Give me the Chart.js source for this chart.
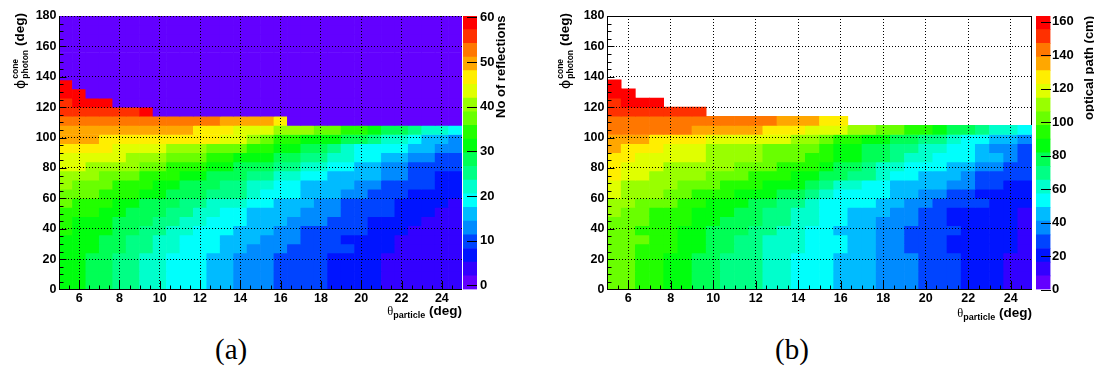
<!DOCTYPE html>
<html><head><meta charset="utf-8">
<script src="https://cdn.jsdelivr.net/npm/chart.js@4.4.1/dist/chart.umd.min.js"></script>
<style>
html,body{margin:0;padding:0;background:#fff;}
#root{position:relative;width:1094px;height:368px;overflow:hidden;font-family:"Liberation Sans",Arial,sans-serif;color:#000;}
canvas{position:absolute;top:0;}
.xt{position:absolute;white-space:nowrap;font:bold 13.5px "Liberation Sans",Arial,sans-serif;line-height:15px;}
.xt .g{font:12.5px "Liberation Serif","DejaVu Serif",serif;}
.xt sub{font-size:9px;vertical-align:-3px;line-height:0;}
.yt{position:absolute;white-space:nowrap;transform-origin:0 0;transform:rotate(-90deg);display:flex;align-items:center;height:21px;font:bold 13.5px "Liberation Sans",Arial,sans-serif;}
.yt .g{font:14px "DejaVu Sans",sans-serif;}
.yt .ss{display:inline-flex;flex-direction:column;font-size:8.5px;line-height:10px;margin-left:1px;margin-right:4px;}
.zt{position:absolute;white-space:nowrap;transform-origin:0 0;transform:rotate(-90deg);font:bold 13px "Liberation Sans",Arial,sans-serif;line-height:15px;}
.cap{position:absolute;font:29px "Liberation Serif","Times New Roman",serif;line-height:32px;}
</style></head><body><div id="root">
<canvas id="heatA" width="470" height="330" style="left:0;width:470px;height:330px"></canvas>
<canvas id="barA" width="60" height="330" style="left:440px;width:60px;height:330px"></canvas>
<canvas id="heatB" width="500" height="330" style="left:540px;width:500px;height:330px"></canvas>
<canvas id="barB" width="84" height="330" style="left:1010px;width:84px;height:330px"></canvas>

<div class="xt" style="right:632px;top:303px"><span class="g">θ</span><sub>particle</sub> (deg)</div>
<div class="xt" style="right:62px;top:305px"><span class="g">θ</span><sub>particle</sub> (deg)</div>
<div class="yt" style="left:9px;top:89px"><span class="g">ϕ</span><span class="ss"><span>cone</span><span>photon</span></span>(deg)</div>
<div class="yt" style="left:554px;top:89px"><span class="g">ϕ</span><span class="ss"><span>cone</span><span>photon</span></span>(deg)</div>
<div class="zt" style="left:493px;top:118px">No of reflections</div>
<div class="zt" style="left:1081px;top:120px">optical path (cm)</div>
<div class="cap" style="left:215px;top:333px">(a)</div>
<div class="cap" style="left:775px;top:333px">(b)</div>
</div>
<script>
// ---- binning (axis structure) ----
const thetaRange = [5, 25];      // θ_particle (deg), 30 bins
const phiRange = [0, 180];       // φ^cone_photon (deg), 30 bins
const nThetaBins = 30, nPhiBins = 30;
const xTickLabels = [6, 8, 10, 12, 14, 16, 18, 20, 22, 24];
const yTickLabels = [0, 20, 40, 60, 80, 100, 120, 140, 160, 180];
const reflTickLabels = [0, 10, 20, 30, 40, 50, 60];
const pathTickLabels = [0, 20, 40, 60, 80, 100, 120, 140, 160];
const reflZRange = [-0.9, 60.3];
const pathZRange = [0, 163.4];
const nContours = 20;

// ---- (a) number of reflections, rows = φ bins from 0 deg upward, columns = θ bins ----
const reflections = [
[31,31,28,28,25,25,22,22,19,19,19,16,16,13,13,13,10,10,10,10,7,7,7,7,4,4,4,4,4,4],
[31,31,28,28,25,25,22,22,19,19,19,16,16,13,13,13,10,10,10,10,7,7,7,7,4,4,4,4,4,4],
[31,31,28,28,25,25,22,22,19,19,19,16,16,13,13,13,10,10,10,10,7,7,7,7,4,4,4,4,4,4],
[31,31,28,28,25,25,22,22,19,19,19,16,16,13,13,13,10,10,10,10,7,7,7,7,4,4,4,4,4,4],
[31,31,31,28,28,25,25,22,22,19,19,19,16,16,13,13,13,10,10,10,10,10,7,7,7,4,4,4,4,4],
[31,31,31,28,28,25,25,22,22,19,19,19,16,16,16,13,13,13,10,10,10,7,7,7,7,4,4,4,4,4],
[34,31,31,31,28,28,25,25,22,22,19,19,19,16,16,16,13,13,10,10,10,10,10,7,7,7,4,4,4,4],
[34,31,31,31,28,28,28,25,25,22,22,19,19,19,16,16,16,13,13,13,10,10,10,7,7,7,7,4,4,4],
[34,34,34,31,31,28,28,28,25,25,22,22,19,19,16,16,16,16,13,13,13,10,10,10,10,7,7,7,4,4],
[37,34,34,34,31,31,28,28,28,25,25,22,22,22,19,19,16,16,16,13,13,10,10,10,10,7,7,7,7,4],
[37,37,37,34,34,34,31,31,28,28,28,25,25,25,22,19,19,19,16,16,16,13,13,10,10,10,7,7,7,7],
[40,37,37,37,34,34,34,31,31,28,28,28,25,25,22,22,19,19,16,16,16,16,13,13,10,10,10,10,7,7],
[40,40,40,37,37,37,34,34,34,31,31,28,28,28,25,25,22,22,19,19,16,16,16,16,13,13,10,10,7,7],
[43,43,40,40,40,40,37,37,34,34,34,31,31,28,28,28,25,25,22,22,19,19,16,16,13,13,10,10,10,10],
[43,43,43,43,43,40,40,40,37,37,37,34,34,31,31,31,28,28,25,25,22,22,19,19,16,16,13,13,10,10],
[46,46,46,46,43,43,43,43,40,40,40,37,37,37,34,34,31,31,28,28,25,22,19,19,19,19,16,16,13,13],
[49,49,49,46,46,46,46,46,46,46,46,46,43,43,40,37,34,34,31,31,31,28,28,25,22,22,19,16,16,13],
[49,49,49,49,49,49,49,49,49,49,46,46,46,43,43,43,40,40,40,37,37,34,34,31,28,28,25,22,22,19],
[52,52,52,52,52,52,52,52,52,52,52,52,49,49,49,49,46,0,0,0,0,0,0,0,0,0,0,0,0,0],
[55,55,55,55,55,55,58,0,0,0,0,0,0,0,0,0,0,0,0,0,0,0,0,0,0,0,0,0,0,0],
[55,58,58,58,0,0,0,0,0,0,0,0,0,0,0,0,0,0,0,0,0,0,0,0,0,0,0,0,0,0],
[58,58,0,0,0,0,0,0,0,0,0,0,0,0,0,0,0,0,0,0,0,0,0,0,0,0,0,0,0,0],
[58,0,0,0,0,0,0,0,0,0,0,0,0,0,0,0,0,0,0,0,0,0,0,0,0,0,0,0,0,0],
[0,0,0,0,0,0,0,0,0,0,0,0,0,0,0,0,0,0,0,0,0,0,0,0,0,0,0,0,0,0],
[0,0,0,0,0,0,0,0,0,0,0,0,0,0,0,0,0,0,0,0,0,0,0,0,0,0,0,0,0,0],
[0,0,0,0,0,0,0,0,0,0,0,0,0,0,0,0,0,0,0,0,0,0,0,0,0,0,0,0,0,0],
[0,0,0,0,0,0,0,0,0,0,0,0,0,0,0,0,0,0,0,0,0,0,0,0,0,0,0,0,0,0],
[0,0,0,0,0,0,0,0,0,0,0,0,0,0,0,0,0,0,0,0,0,0,0,0,0,0,0,0,0,0],
[0,0,0,0,0,0,0,0,0,0,0,0,0,0,0,0,0,0,0,0,0,0,0,0,0,0,0,0,0,0],
[0,0,0,0,0,0,0,0,0,0,0,0,0,0,0,0,0,0,0,0,0,0,0,0,0,0,0,0,0,0]
];

// ---- (b) optical path (cm); empty bins are left out of the row ----
const opticalPath = [
[102,102,94,94,86,86,78,78,69,69,69,61,61,53,53,53,45,45,45,37,37,37,29,29,29,20,20,20,12,12],
[102,102,94,94,86,86,78,78,69,69,69,61,61,53,53,53,45,45,45,37,37,37,29,29,29,20,20,20,12,12],
[102,102,94,94,86,86,78,78,69,69,69,61,61,53,53,53,45,45,45,37,37,37,29,29,29,20,20,20,12,12],
[102,102,94,94,86,86,78,78,69,69,69,61,61,53,53,53,45,45,45,37,37,37,29,29,29,20,20,20,12,12],
[102,102,94,94,94,86,86,78,78,69,69,61,61,61,53,53,53,45,45,37,37,29,29,29,20,20,20,20,20,12],
[102,102,102,94,94,86,86,78,78,69,69,61,61,61,53,53,53,45,45,37,37,29,29,29,20,20,20,20,20,12],
[102,102,94,94,94,86,86,78,78,78,69,69,61,61,53,53,45,45,45,37,37,29,29,29,29,20,20,20,20,12],
[102,102,102,94,94,94,86,86,78,78,78,69,69,61,61,53,53,45,45,37,37,37,29,29,20,20,20,20,20,12],
[110,102,102,94,94,94,86,86,86,78,78,69,69,61,61,53,53,45,45,45,37,37,29,29,20,20,20,20,20,12],
[110,110,102,102,102,94,94,86,86,86,78,78,69,69,61,53,53,53,53,45,45,37,37,29,29,29,29,20,20,20],
[118,110,110,110,102,102,94,94,94,86,86,86,78,78,69,61,53,53,53,53,45,45,37,37,29,29,20,20,20,20],
[118,110,110,110,110,102,102,102,94,94,94,86,86,86,78,69,61,61,53,53,45,45,45,45,37,37,29,29,20,20],
[127,118,118,110,110,110,110,102,102,102,94,94,94,86,86,78,78,69,69,61,53,53,45,45,45,37,29,29,29,29],
[127,118,118,118,110,110,110,110,110,102,102,102,94,94,94,86,78,78,69,61,61,53,53,53,45,45,37,37,29,29],
[127,127,118,118,118,118,118,110,110,110,110,102,102,102,94,94,86,86,78,78,69,61,61,53,53,53,45,45,37,29],
[135,127,127,127,118,118,118,110,110,110,110,102,102,102,102,94,86,86,78,78,69,69,61,61,53,53,45,37,37,29],
[135,135,135,127,127,127,127,118,118,118,118,118,118,110,110,102,94,94,86,86,78,78,69,69,61,53,53,45,45,37],
[143,143,143,143,143,143,135,135,135,135,135,127,127,127,118,118,118,110,110,102,102,94,94,86,78,78,69,61,61,53],
[143,143,143,143,143,143,143,143,143,143,143,143,135,135,135,127,127],
[151,151,151,151,151,151,151],
[151,159,159,159],
[159,159],
[159],
[],[],[],[],[],[],[]
];

// ---- ROOT "pretty" palette (50 colours, violet -> red) sampled for the contour levels ----
function paletteColour(k) {
  const idx = Math.floor((k + 0.99) * 50 / nContours);
  const hue = 280 - (idx + 1) * 5.6;
  return 'hsl(' + hue.toFixed(1) + ',100%,50%)';
}
function colourFor(v, z) {
  let k = Math.floor((v - z[0]) / (z[1] - z[0]) * nContours);
  k = Math.max(0, Math.min(nContours - 1, k));
  return paletteColour(k);
}

const FONT = {family: '"Liberation Sans", Arial, sans-serif', size: 12.5, weight: 'bold'};

const rootAxes = {
  id: 'rootAxes',
  beforeDatasetsDraw(chart, args, o) {
    if (o.kind !== 'heat') return;
    const {ctx, chartArea: a} = chart;
    ctx.save();
    ctx.strokeStyle = '#000'; ctx.lineWidth = 1;
    const l = Math.round(a.left), r = Math.round(a.right), t = Math.round(a.top), b = Math.round(a.bottom);
    ctx.strokeRect(l + 0.5, t + 0.5, r - l - 1, b - t - 1);
    ctx.restore();
  },
  afterDraw(chart, args, o) {
    const {ctx, chartArea: a, scales} = chart;
    ctx.save();
    ctx.strokeStyle = '#000'; ctx.lineWidth = 1;
    ctx.beginPath();
    if (o.kind === 'heat') {
      const l = Math.round(a.left), r = Math.round(a.right), t = Math.round(a.top), b = Math.round(a.bottom);
      ctx.moveTo(l + 0.5, t); ctx.lineTo(l + 0.5, b);
      ctx.moveTo(l, b - 0.5); ctx.lineTo(r, b - 0.5);
      for (let i = 1; ; i++) {
        const v = thetaRange[0] + i * 0.5;
        if (v >= thetaRange[1] - 1e-9) break;
        const major = xTickLabels.includes(v);
        const px = Math.round(scales.x.getPixelForValue(v)) + 0.5;
        ctx.moveTo(px, b); ctx.lineTo(px, b - (major ? 9 : 4.5));
      }
      for (let i = 1; ; i++) {
        const v = phiRange[0] + i * 5;
        if (v >= phiRange[1] - 1e-9) break;
        const major = yTickLabels.includes(v);
        const py = Math.round(scales.y.getPixelForValue(v)) + 0.5;
        ctx.moveTo(l, py); ctx.lineTo(l + (major ? 7.5 : 4.5), py);
      }
    } else {
      const r = Math.round(a.right);
      scales.y.ticks.forEach(tk => {
        const py = Math.round(scales.y.getPixelForValue(tk.value)) + 0.5;
        ctx.moveTo(r, py); ctx.lineTo(r - 10, py);
      });
    }
    ctx.stroke();
    ctx.restore();
  }
};

function heatChart(id, values, z, yAxisWidth, padRight) {
  const dT = (thetaRange[1] - thetaRange[0]) / nThetaBins;
  const dP = (phiRange[1] - phiRange[0]) / nPhiBins;
  const cells = [];
  values.forEach((row, j) => {
    row.forEach((v, i) => {
      if (v === null || v === undefined) return;
      cells.push({x: thetaRange[0] + (i + 0.5) * dT, y: [phiRange[0] + j * dP, phiRange[0] + (j + 1) * dP], v: v});
    });
  });
  return new Chart(document.getElementById(id), {
    type: 'bar',
    data: {datasets: [{
      data: cells,
      backgroundColor: c => (c.raw ? colourFor(c.raw.v, z) : '#000'),
      borderWidth: 0,
      barPercentage: 1,
      categoryPercentage: 1
    }]},
    options: {
      responsive: false, animation: false, devicePixelRatio: 1,
      layout: {padding: {left: 0, top: 16, right: padRight, bottom: 0}},
      plugins: {legend: {display: false}, tooltip: {enabled: false}, rootAxes: {kind: 'heat'}},
      scales: {
        x: {
          type: 'linear', min: thetaRange[0], max: thetaRange[1], offset: false,
          afterBuildTicks: s => { s.ticks = xTickLabels.map(v => ({value: v})); },
          afterFit: s => { s.height = 40.5; },
          grid: {color: '#000', lineWidth: 1, drawTicks: false, offset: false, z: 1},
          border: {display: false, dash: [1, 2]},
          ticks: {font: FONT, color: '#000', padding: 1.5, maxRotation: 0, autoSkip: false}
        },
        y: {
          type: 'linear', min: phiRange[0], max: phiRange[1],
          afterBuildTicks: s => { s.ticks = yTickLabels.map(v => ({value: v})); },
          afterFit: s => { s.width = yAxisWidth; },
          grid: {color: '#000', lineWidth: 1, drawTicks: false, z: 1},
          border: {display: false, dash: [1, 2]},
          ticks: {font: FONT, color: '#000', padding: 2.5, autoSkip: false}
        }
      }
    },
    plugins: [rootAxes]
  });
}

function paletteChart(id, z, tickVals, padLeft, axisWidth, labelPad) {
  const w = (z[1] - z[0]) / nContours;
  const datasets = [];
  for (let k = 0; k < nContours; k++) {
    datasets.push({data: [[z[0] + k * w, z[0] + (k + 1) * w]], backgroundColor: paletteColour(k),
      borderWidth: 0, barPercentage: 1, categoryPercentage: 1, grouped: false});
  }
  return new Chart(document.getElementById(id), {
    type: 'bar',
    data: {labels: [''], datasets: datasets},
    options: {
      responsive: false, animation: false, devicePixelRatio: 1,
      layout: {padding: {left: padLeft, top: 16, right: 0, bottom: 40.5}},
      plugins: {legend: {display: false}, tooltip: {enabled: false}, rootAxes: {kind: 'palette'}},
      scales: {
        x: {type: 'category', display: false},
        y: {
          type: 'linear', position: 'right', min: z[0], max: z[1],
          afterBuildTicks: s => { s.ticks = tickVals.map(v => ({value: v})); },
          afterFit: s => { s.width = axisWidth; },
          grid: {display: false, drawTicks: false},
          border: {display: false},
          ticks: {font: {family: FONT.family, size: 13, weight: 'bold'}, color: '#000', padding: labelPad, autoSkip: false}
        }
      }
    },
    plugins: [rootAxes]
  });
}

heatChart('heatA', reflections, reflZRange, 59, 8);
paletteChart('barA', reflZRange, reflTickLabels, 23, 23, 3);
heatChart('heatB', opticalPath, pathZRange, 67, 8);
paletteChart('barB', pathZRange, pathTickLabels, 26, 43.5, 1.5);
</script>
</body></html>
